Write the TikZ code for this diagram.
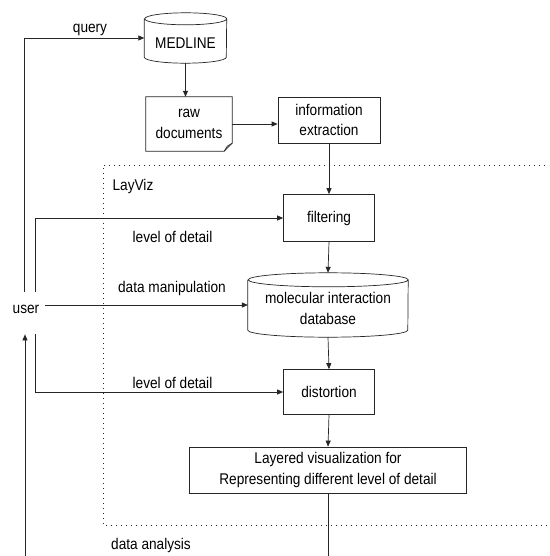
\documentclass[tikz,border=0pt]{standalone}
\usepackage{fontspec}
\setmainfont{Liberation Sans}[FakeStretch=0.88]
\usetikzlibrary{arrows.meta,calc}
\begin{document}
\begin{tikzpicture}[x=1pt,y=-1pt,
  line/.style={draw=black!85,line width=0.7pt},
  arr/.style={line,-{Triangle[length=6pt,width=5pt]}},
  txt/.style={font=\fontsize{15.5}{20.5}\selectfont},
  every node/.style={txt},
  plain/.style={inner sep=0pt,align=center},
  box/.style={plain,line,fill=white},
  lbl/.style={inner sep=0pt},
  frame/.style={line,dash pattern=on 1pt off 4pt}
]
\useasboundingbox (0,0) rectangle (549,556);
\clip (0,0) rectangle (549,556);
\fill[white] (0,0) rectangle (549,556);

% LayViz frame (runs past the right edge)
\draw[frame] (560,165) -- (103,165) -- (103,525) -- (560,525);
\node[lbl] (layviz) at (133,186) {LayViz};

% MEDLINE store
\node[plain,minimum width=82pt,minimum height=50pt] (med) at (185.5,38) {\rule{0pt}{21pt}MEDLINE};
\draw[line] ([yshift=-6pt]med.north west) -- ([yshift=6pt]med.south west)
  arc[start angle=180,end angle=360,x radius=41pt,y radius=6pt]
  -- ([yshift=-6pt]med.north east)
  arc[start angle=0,end angle=180,x radius=41pt,y radius=6pt]
  arc[start angle=180,end angle=360,x radius=41pt,y radius=6pt];

% raw documents (document with folded corner)
\node[plain,minimum width=86pt,minimum height=54pt] (raw) at (189,124) {raw\\documents};
\draw[line] (raw.north west) -- (raw.north east) -- ([yshift=8pt]raw.south east)
  -- ([xshift=-8pt]raw.south east) -- (raw.south west) -- cycle;
\draw[line] ([yshift=8pt]raw.south east) -- ([xshift=-5pt,yshift=5pt]raw.south east)
  -- ([xshift=-8pt]raw.south east);

% processing steps
\node[box,minimum width=102pt,minimum height=46pt] (info) at (329,120) {information\\extraction};
\node[box,minimum width=91pt,minimum height=47pt] (filt) at (329,218) {filtering};

% molecular interaction database
\node[plain,minimum width=160pt,minimum height=64pt] (db) at (328,305)
  {\rule{0pt}{18.5pt}molecular interaction\\database};
\draw[line] ([yshift=-7pt]db.north west) -- ([yshift=7pt]db.south west)
  arc[start angle=180,end angle=360,x radius=80pt,y radius=7pt]
  -- ([yshift=-7pt]db.north east)
  arc[start angle=0,end angle=180,x radius=80pt,y radius=7pt]
  arc[start angle=180,end angle=360,x radius=80pt,y radius=7pt];

\node[box,minimum width=91pt,minimum height=45pt] (dist) at (329,392) {distortion};
\node[box,minimum width=277pt,minimum height=46pt] (lay) at (328,470)
  {Layered visualization for\\Representing different level of detail};

% user
\node[inner xsep=6pt,inner ysep=13pt,text depth=8pt] (user) at (26,313) {user};

% edge labels
\node[lbl] (lq) at (90,30) {query};
\node[lbl] (llod1) at (172.5,237) {level of detail};
\node[lbl] (ldm) at (172,288) {data manipulation};
\node[lbl] (llod2) at (172.5,383) {level of detail};
\node[lbl] (lda) at (151,545) {data analysis};

% connectors
\draw[arr] ([xshift=-2pt]user.north) |- (med.west);
\draw[arr] (med.south) -- (med.south |- raw.north);
\draw[arr] (raw.east) -- (raw.east -| info.west);
\draw[arr] (info.south) -- (filt.north);
\draw[arr] ([xshift=9pt]user.north) |- (filt.west);
\draw[arr] (filt.south) -- (db.north);
\draw[arr] (user.east |- db.west) -- (db.west);
\draw[arr] (db.south) -- (dist.north);
\draw[arr] ([xshift=9pt]user.south) |- (dist.west);
\draw[arr] (dist.south) -- (lay.north);
\coordinate (ret) at (328,580);
\draw[arr] (lay.south) -- (lay.south |- ret) -| ([xshift=-1pt]user.south);
\end{tikzpicture}
\end{document}
